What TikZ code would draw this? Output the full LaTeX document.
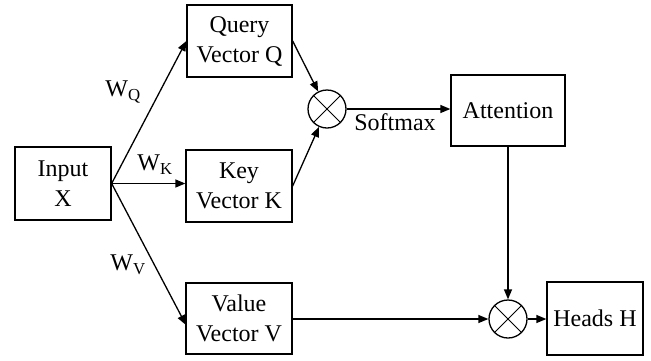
\documentclass[tikz,border=0pt]{standalone}
\usepackage{fontspec}
\setmainfont{Liberation Serif}
\usetikzlibrary{arrows.meta}
\begin{document}
\begin{tikzpicture}[x=1pt,y=-1pt,
  txt/.style={font=\fontsize{24}{30}\selectfont},
  blk/.style={draw,line width=1.3pt,align=center,inner sep=0pt,txt},
  mult/.style={draw,circle,line width=1.3pt,minimum size=38pt,inner sep=0pt},
  conn/.style={line width=1.3pt,-{Triangle[length=10pt,width=8pt]}},
  lbl/.style={txt,inner sep=0pt}]
\useasboundingbox (0,0) rectangle (651,360);
\node[blk,minimum width=96pt,minimum height=73pt] (in) at (63,183.5) {Input\\X};
\node[blk,minimum width=105pt,minimum height=72pt] (q) at (239.5,41) {Query\\Vector Q};
\node[blk,minimum width=106pt,minimum height=72pt] (k) at (239,186) {Key\\Vector K};
\node[blk,minimum width=106pt,minimum height=71pt] (v) at (239,318.5) {Value\\Vector V};
\node[blk,minimum width=114pt,minimum height=71pt] (att) at (508,110.5) {Attention};
\node[blk,minimum width=96pt,minimum height=73pt] (h) at (595,318.5) {Heads H};
\node[mult] (c1) at (327,109) {};
\node[mult] (c2) at (508,319) {};
\foreach \c in {c1,c2}{
  \draw[line width=0.8pt] (\c.north east) -- (\c.south west);
  \draw[line width=0.8pt] (\c.north west) -- (\c.south east);
}
\coordinate (vin) at (186,325);
\draw[conn] (in.east) -- (q.west);
\draw[conn] (in.east) -- (k.west |- in.east);
\draw[conn] (in.east) -- (vin);
\draw[conn] (q.east) -- (c1);
\draw[conn] (k.east) -- (c1);
\draw[conn] (c1) -- (att.west |- c1);
\draw[conn] (att.south) -- (c2);
\draw[conn] (v.east |- c2) -- (c2);
\draw[conn] (c2) -- (h.west |- c2);
\node[lbl] (wq) at (123,92) {W\textsubscript{Q}};
\node[lbl] (wk) at (155,165) {W\textsubscript{K}};
\node[lbl] (wv) at (128,265) {W\textsubscript{V}};
\node[lbl] (sm) at (395,122) {Softmax};
\end{tikzpicture}
\end{document}
